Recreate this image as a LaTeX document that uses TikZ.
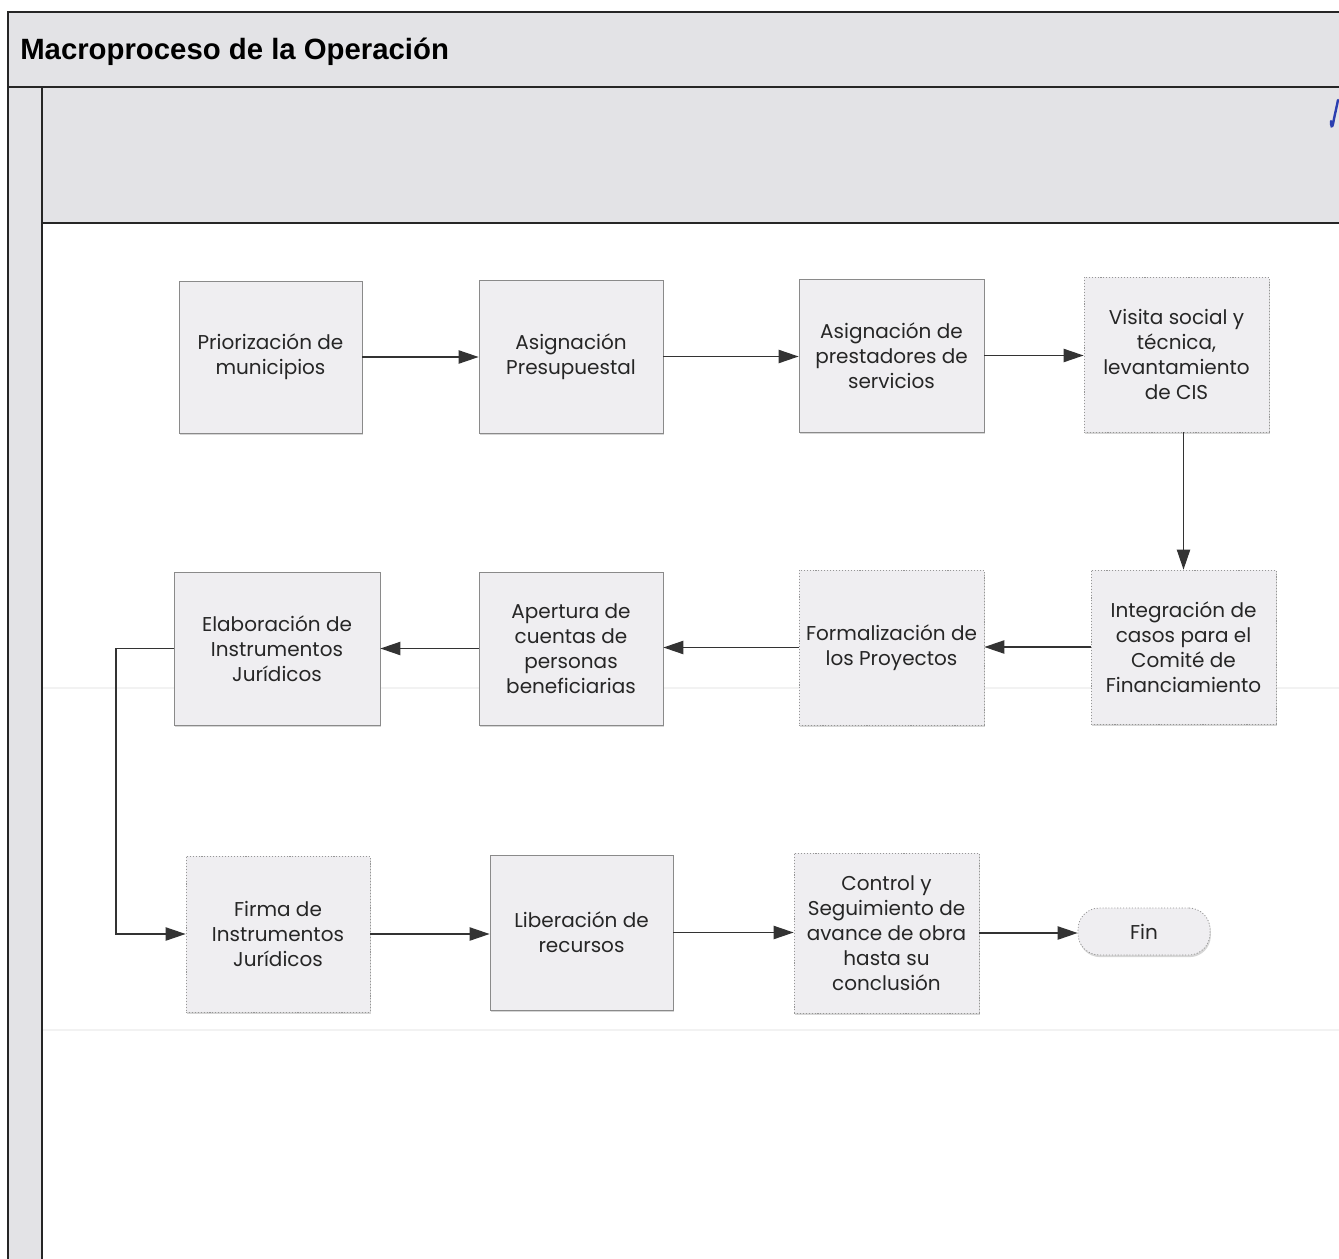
\documentclass[tikz,border=0pt]{standalone}
\usepackage{fontspec}
\setmainfont{Poppins}
\newfontfamily\titlefont{Liberation Sans}
\usetikzlibrary{arrows.meta,shadows}

\definecolor{bandgray}{HTML}{E3E3E6}
\definecolor{boxfill}{HTML}{EFEEF1}
\definecolor{boxline}{HTML}{8A8A8A}
\definecolor{flowline}{HTML}{333333}
\definecolor{inkblue}{HTML}{2B3FB0}

\tikzset{
  frameline/.style={draw=black!85, line width=1.5pt},
  procbox/.style 2 args={draw=boxline, line width=0.6pt, fill=boxfill,
    minimum width=#1*0.75pt, minimum height=#2*0.75pt, inner sep=2pt,
    align=center, font=\fontsize{15}{18.75}\selectfont\color{black!85},
    drop shadow={shadow xshift=0.6pt, shadow yshift=-1.6pt, fill=black!35, opacity=0.45}},
  dotbox/.style 2 args={procbox={#1}{#2}, draw=boxline!90, dash pattern=on 0.8pt off 1.4pt},
  endbox/.style={dotbox={132}{47}, rounded corners=16pt},
  flow/.style={draw=flowline, line width=0.9pt, -{Triangle[length=15pt,width=10pt]}},
}

\begin{document}
\begin{tikzpicture}[x=0.75pt,y=-0.75pt]
  \useasboundingbox (0,0) rectangle (1339,1259);
  \fill[white] (0,0) rectangle (1339,1259);

  % pool frame: title band, lane label column and header band
  \fill[bandgray] (8,12) rectangle (1339,87);
  \fill[bandgray] (8,87) rectangle (42,1259);
  \fill[bandgray] (42,87) rectangle (1339,223);
  \draw[frameline] (1339,12) -- (8,12) -- (8,1259);
  \draw[frameline] (8,87) -- (1339,87);
  \draw[frameline] (42,87) -- (42,1259);
  \draw[frameline] (42,223) -- (1339,223);

  % faint lane separators
  \draw[black!5, line width=1pt] (43,688) -- (1339,688);
  \draw[black!5, line width=1pt] (43,1030) -- (1339,1030);

  \node[anchor=west, inner sep=0pt, font=\titlefont\bfseries\fontsize{22}{26}\selectfont]
    (title) at (20,52) {Macroproceso de la Operación};

  % ink stroke in the header corner
  \draw[inkblue, line width=1.8pt, line cap=round]
    (1338,100) .. controls (1336,110) and (1334,118) .. (1333,124)
    .. controls (1332,128) and (1331,127) .. (1331,121);

  % first row
  \node[procbox={183}{152}] (b1) at (270.5,357) {Priorización de\\municipios};
  \node[procbox={184}{153}] (b2) at (571,356.5) {Asignación\\Presupuestal};
  \node[procbox={185}{153}] (b3) at (891.5,355.5) {Asignación de\\prestadores de\\servicios};
  \node[dotbox={185}{155}] (b4) at (1176.5,354.5) {Visita social y\\técnica,\\levantamiento\\de CIS};

  % second row
  \node[dotbox={185}{154}] (b5) at (1183.5,647) {Integración de\\casos para el\\Comité de\\Financiamiento};
  \node[dotbox={185}{155}] (b6) at (891.5,647.5) {Formalización de\\los Proyectos};
  \node[procbox={184}{153}] (b7) at (571,648.5) {Apertura de\\cuentas de\\personas\\beneficiarias};
  \node[procbox={206}{153}] (b8) at (277,648.5) {Elaboración de\\Instrumentos\\Jurídicos};

  % third row
  \node[dotbox={184}{156}] (b9) at (278,934) {Firma de\\Instrumentos\\Jurídicos};
  \node[procbox={183}{155}] (b10) at (581.5,932.5) {Liberación de\\recursos};
  \node[dotbox={185}{160}] (b11) at (886.5,933) {Control y\\Seguimiento de\\avance de obra\\hasta su\\conclusión};
  \node[endbox] (fin) at (1144,931.5) {Fin};

  % connectors
  \draw[flow] (b1.east) -- (b1.east -| b2.west);
  \draw[flow] (b2.east) -- (b2.east -| b3.west);
  \draw[flow] (b3.east) -- (b3.east -| b4.west);
  \draw[flow] (b4.south -| b5.north) -- (b5.north);
  \draw[flow] (b5.west) -- (b5.west -| b6.east);
  \draw[flow] (b6.west) -- (b6.west -| b7.east);
  \draw[flow] (b7.west) -- (b7.west -| b8.east);
  \coordinate (loop) at (116,648.5);
  \draw[flow] (b8.west) -- (loop) |- (b9.west);
  \draw[flow] (b9.east) -- (b9.east -| b10.west);
  \draw[flow] (b10.east) -- (b10.east -| b11.west);
  \draw[flow] (b11.east) -- (b11.east -| fin.west);
\end{tikzpicture}
\end{document}
